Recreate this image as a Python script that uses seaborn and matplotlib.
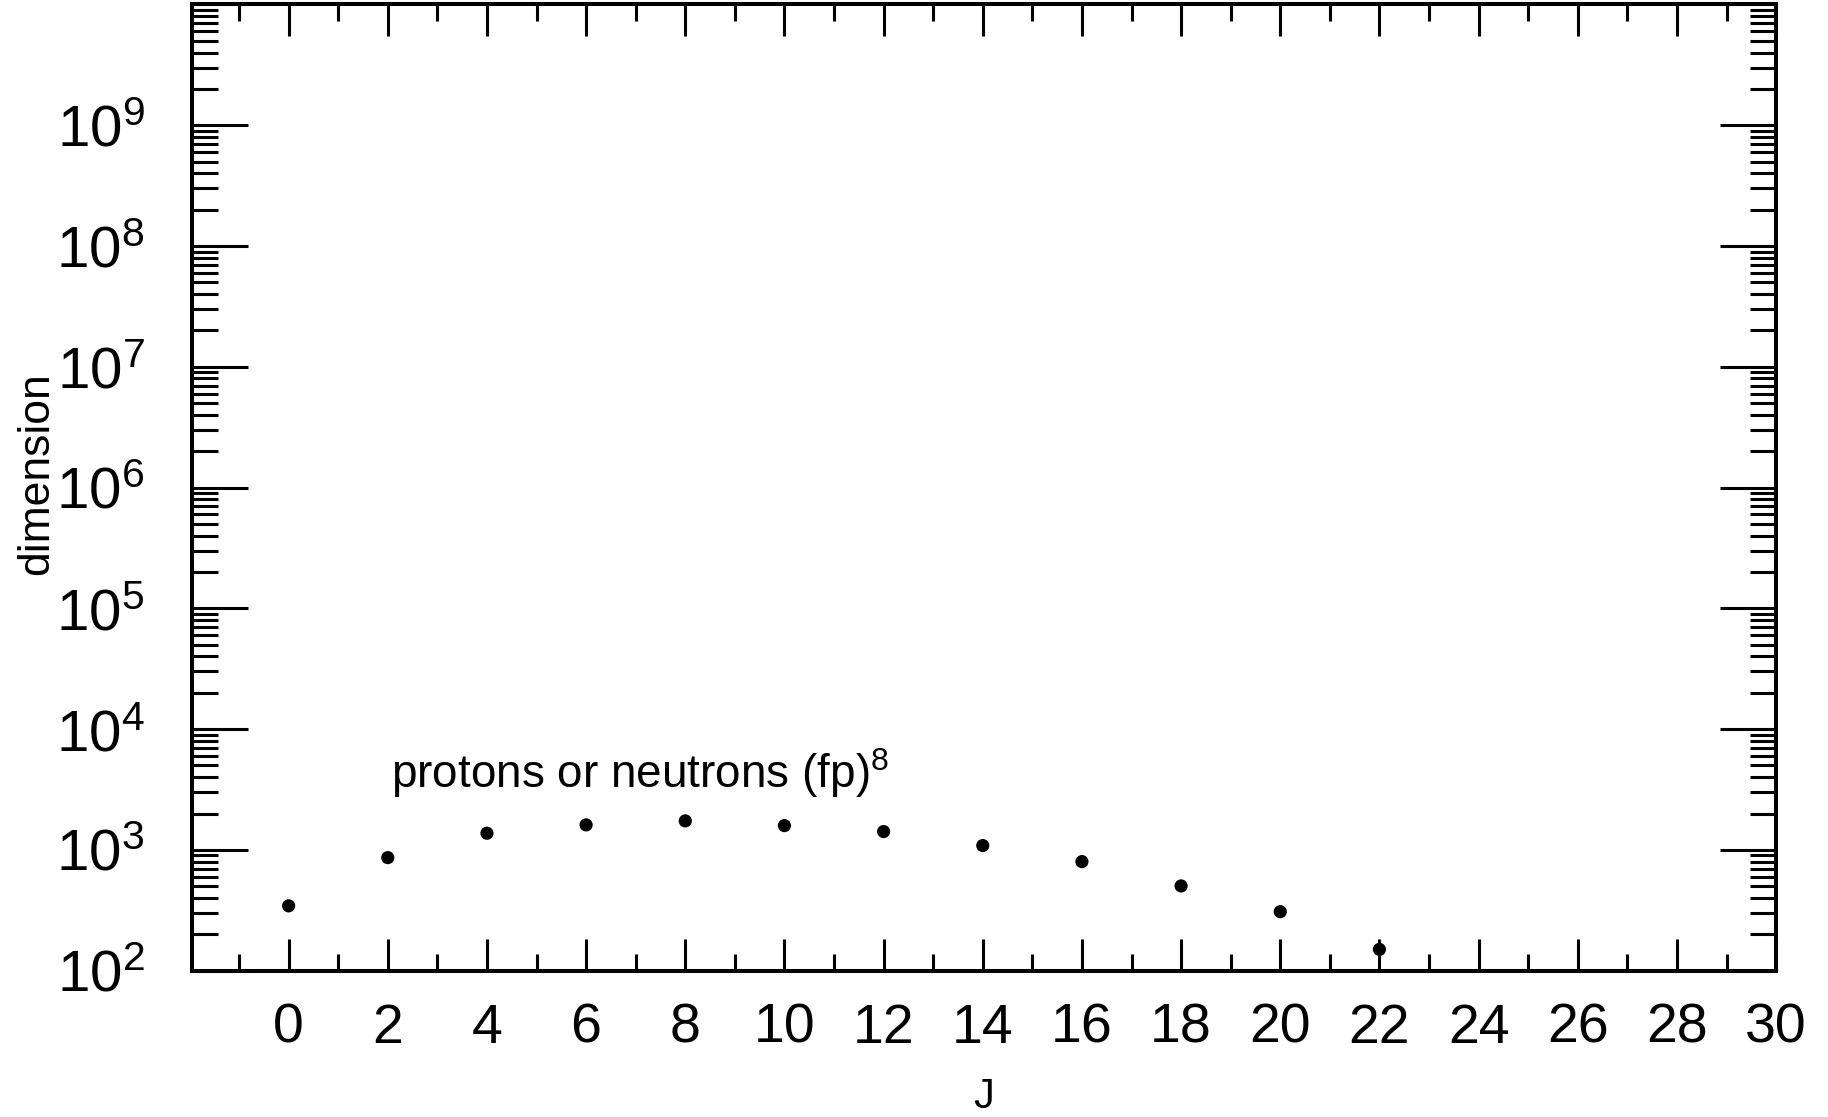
import numpy as np
import pandas as pd
import seaborn as sns
import matplotlib
matplotlib.use("Agg")
import matplotlib.pyplot as plt
from matplotlib.ticker import FixedLocator, LogLocator, MultipleLocator, NullFormatter

# dimensions of the J-scheme basis
J_VALUES = [0, 2, 4, 6, 8, 10, 12, 14, 16, 18, 20, 22]
DIMENSIONS = [344, 863, 1374, 1611, 1738, 1589, 1419, 1086, 800, 503, 308, 150]

X_TICKS = list(range(0, 31, 2))
Y_DECADES = [2, 3, 4, 5, 6, 7, 8, 9]
Y_TICK_LABELS = [f"$10^{{{d}}}$" for d in Y_DECADES]

df = pd.DataFrame({"J": J_VALUES, "dimension": DIMENSIONS})

sns.set_theme(style="ticks")
plt.rcParams["font.family"] = ["Liberation Sans", "DejaVu Sans"]
plt.rcParams["mathtext.fontset"] = "custom"
plt.rcParams["mathtext.rm"] = "Liberation Sans"
plt.rcParams["mathtext.it"] = "Liberation Sans:italic"
plt.rcParams["mathtext.bf"] = "Liberation Sans:bold"
for k in ("text.color", "axes.labelcolor", "xtick.color", "ytick.color", "axes.edgecolor"):
    plt.rcParams[k] = "black"

fig = plt.figure(figsize=(18.28, 11.17), dpi=100)
ax = fig.add_axes([0.105, 0.131, 0.8666, 0.865])

sns.scatterplot(data=df, x="J", y="dimension", ax=ax, color="black",
                s=90, edgecolor="none", linewidth=0, legend=False, zorder=3)

ax.set_yscale("log")
ax.set_ylim(1e2, 1e10)
ax.set_xlim(-1.95, 30)

ax.xaxis.set_major_locator(FixedLocator(X_TICKS))
ax.xaxis.set_minor_locator(MultipleLocator(1))
ax.set_xticklabels([str(t) for t in X_TICKS])

ax.yaxis.set_major_locator(FixedLocator([10.0 ** d for d in Y_DECADES + [10]]))
ax.set_yticklabels(Y_TICK_LABELS + [""])
ax.yaxis.set_minor_locator(LogLocator(base=10, subs=np.arange(2, 10), numticks=30))
ax.yaxis.set_minor_formatter(NullFormatter())

for sp in ax.spines.values():
    sp.set_linewidth(2.9)
    sp.set_color("black")

ax.tick_params(axis="both", which="both", direction="in", top=True, right=True,
               color="black", width=2.2)
ax.tick_params(axis="y", which="major", length=40, labelsize=42, pad=34)
ax.tick_params(axis="y", which="minor", length=19)
ax.tick_params(axis="x", which="major", length=23, labelsize=40, pad=23)
ax.tick_params(axis="x", which="minor", length=12)

ax.set_xlabel("J", fontsize=30, labelpad=16)
ax.set_ylabel("dimension", fontsize=32, labelpad=6)
ax.yaxis.set_label_coords(-0.085, 0.514)

ax.text(2.06, 3270, "protons or neutrons (fp)$^{8}$", fontsize=33,
        ha="left", va="baseline", color="black")

ax.grid(False)
fig.savefig("out.png", dpi=100, facecolor="white")
